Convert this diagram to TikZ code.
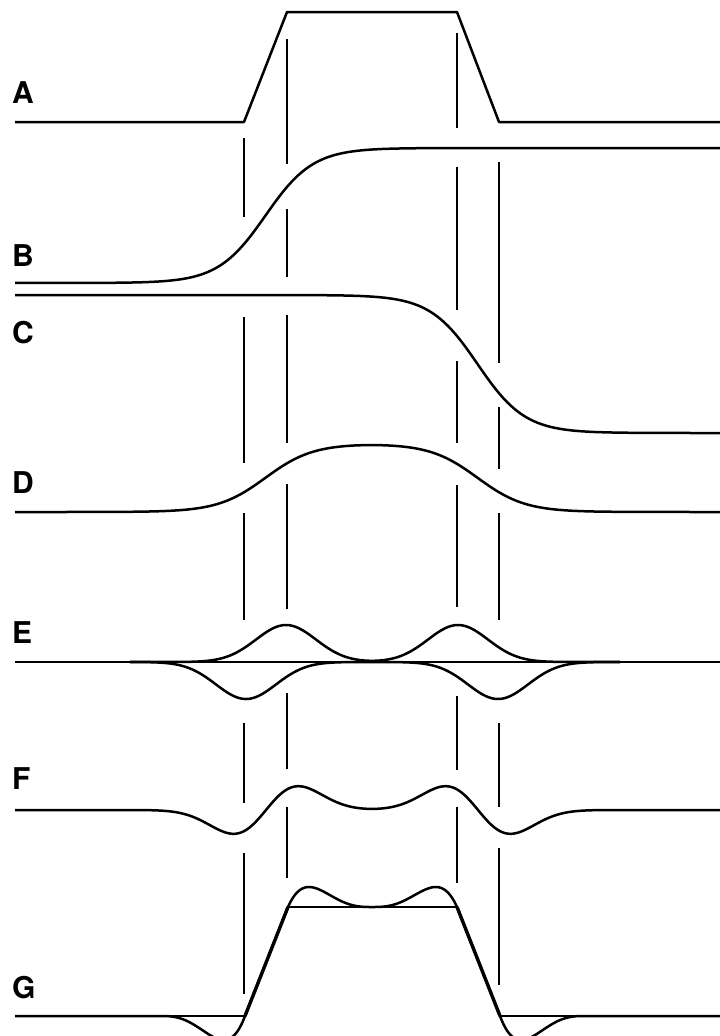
\documentclass[tikz,border=0pt]{standalone}
\usepackage{fontspec}
\setmainfont{TeX Gyre Heros}
\begin{document}
\begin{tikzpicture}[x=1pt,y=-1pt,
  curve/.style={line width=2.5pt, line join=round},
  ramp/.style={line width=3.4pt, line join=round},
  vline/.style={line width=1.25pt},
  lbl/.style={anchor=base west, inner sep=0pt, font=\fontsize{30}{30}\selectfont\bfseries},
  declare function={
    gs(\u)=exp(-min(\u*\u/2,9));
    lg(\t)=1/(1+exp(-max(min(\t,9),-9)));
    qq(\t)=9.48*\t*(1-\t)^3;
  }]
\useasboundingbox (0,0) rectangle (720,1036);
\clip (0,0) rectangle (720,1036);

% labels
\node[lbl] (labA) at (12,103) {A};
\node[lbl] (labB) at (12,266) {B};
\node[lbl] (labC) at (12,343) {C};
\node[lbl] (labD) at (12,493) {D};
\node[lbl] (labE) at (12,643) {E};
\node[lbl] (labF) at (12,789) {F};
\node[lbl] (labG) at (12,998) {G};

% vertical guide segments
\foreach \ya/\yb in {138/217, 317/463, 513/620, 723/803, 853/994}
  \draw[vline] (244,\ya) -- (244,\yb);
\foreach \ya/\yb in {39/164, 209/277, 315/443, 484/609, 693/769, 807/878}
  \draw[vline] (287,\ya) -- (287,\yb);
\foreach \ya/\yb in {33/128, 167/310, 361/443, 485/607, 696/770, 807/883}
  \draw[vline] (457,\ya) -- (457,\yb);
\foreach \ya/\yb in {162/363, 407/469, 513/620, 723/807, 848/985}
  \draw[vline] (499,\ya) -- (499,\yb);

% A
\draw[curve] (15,122) -- (244,122) -- (287,12) -- (457,12) -- (499,122) -- (720,122);

% B
\draw[curve] plot[domain=15:720, samples=240] (\x, {283 - 135*lg(0.042*(\x-265.5))});

% C
\draw[curve] plot[domain=15:720, samples=240] (\x, {295 + 138*lg(0.042*(\x-477.5))});

% D
\draw[curve] plot[domain=15:720, samples=240]
  (\x, {512 - 68.5*(lg(0.042*(\x-265.5)) - lg(0.042*(\x-477.5)))});

% E
\draw[curve] (15,662) -- (720,662);
\draw[curve] plot[domain=130:620, samples=200]
  (\x, {662 - 37*(gs((\x-286)/30) + gs((\x-458)/30))});
\draw[curve] plot[domain=130:620, samples=200]
  (\x, {662 + 37*(gs((\x-246)/30) + gs((\x-498)/30))});

% F
\draw[curve] plot[domain=15:720, samples=260]
  (\x, {810 - 34*(gs((\x-286)/30) + gs((\x-458)/30) - gs((\x-246)/30) - gs((\x-498)/30))});

% G
\draw[curve] (15,1016) -- (245,1016) (288,907) -- (457,907) (500,1016) -- (720,1016);
\draw[ramp] (245,1016) -- (288,907) (457,907) -- (500,1016);
\draw[curve] (15,1016) -- (160,1016)
  -- plot[domain=160:245, samples=60] (\x, {1016 + 24*qq((245-\x)/85)})
  -- (288,907)
  -- plot[domain=288:372, samples=60] (\x, {907 - 20*qq((\x-288)/84)})
  -- plot[domain=372:457, samples=60] (\x, {907 - 20*qq((457-\x)/85)})
  -- (500,1016)
  -- plot[domain=500:585, samples=60] (\x, {1016 + 24*qq((\x-500)/85)})
  -- (720,1016);
\end{tikzpicture}
\end{document}
